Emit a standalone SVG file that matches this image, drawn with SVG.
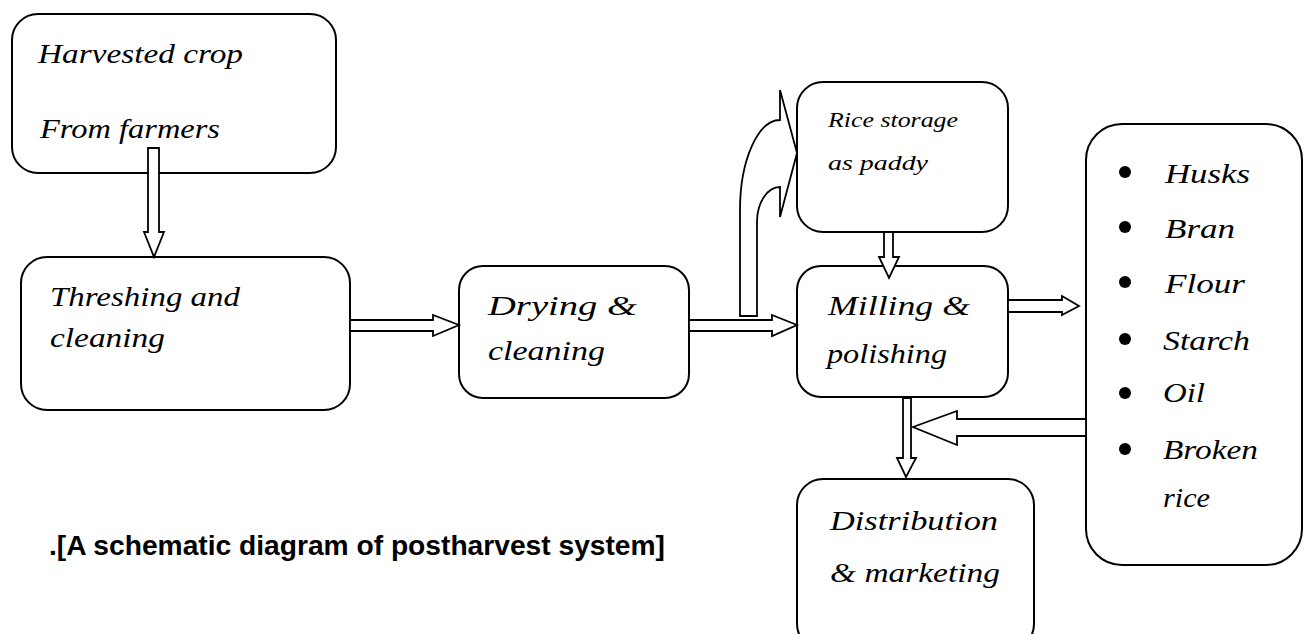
<svg xmlns="http://www.w3.org/2000/svg" width="1309" height="634" viewBox="0 0 1309 634">
<style>
.box{fill:#fff;stroke:#000;stroke-width:2}
.arr{fill:#fff;stroke:#000;stroke-width:1.8;stroke-linejoin:miter}
.t{font-family:"Liberation Serif",serif;font-style:italic;font-size:28px;fill:#000}
.s{font-family:"Liberation Serif",serif;font-style:italic;font-size:21px;fill:#000}
.cap{font-family:"Liberation Sans",sans-serif;font-weight:bold;font-size:27px;fill:#000}
</style>
<rect width="1309" height="634" fill="#fff"/>
<g id="harvested">
<rect class="box" x="12" y="14" width="324" height="159" rx="26"/>
<text class="t" x="38" y="63" textLength="205" lengthAdjust="spacingAndGlyphs">Harvested crop</text>
<text class="t" x="40" y="138" textLength="180" lengthAdjust="spacingAndGlyphs">From farmers</text>
</g>
<g id="threshing">
<rect class="box" x="21" y="257" width="329" height="153" rx="26"/>
<text class="t" x="50" y="306" textLength="190" lengthAdjust="spacingAndGlyphs">Threshing and</text>
<text class="t" x="50" y="347" textLength="115" lengthAdjust="spacingAndGlyphs">cleaning</text>
</g>
<g id="drying">
<rect class="box" x="459" y="266" width="230" height="132" rx="24"/>
<text class="t" x="488" y="315" textLength="149" lengthAdjust="spacingAndGlyphs">Drying  &amp;</text>
<text class="t" x="488" y="360" textLength="117" lengthAdjust="spacingAndGlyphs">cleaning</text>
</g>
<g id="storage">
<rect class="box" x="797" y="82" width="211" height="150" rx="26"/>
<text class="s" x="828" y="127" textLength="130" lengthAdjust="spacingAndGlyphs">Rice storage</text>
<text class="s" x="828" y="170" textLength="100" lengthAdjust="spacingAndGlyphs">as paddy</text>
</g>
<g id="milling">
<rect class="box" x="797" y="266" width="211" height="131" rx="24"/>
<text class="t" x="828" y="315" textLength="142" lengthAdjust="spacingAndGlyphs">Milling &amp;</text>
<text class="t" x="827" y="363" textLength="120" lengthAdjust="spacingAndGlyphs">polishing</text>
</g>
<g id="products">
<rect class="box" x="1086" y="124" width="216" height="441" rx="36"/>
<circle cx="1125" cy="172" r="6"/>
<circle cx="1125" cy="227" r="6"/>
<circle cx="1125" cy="282" r="6"/>
<circle cx="1125" cy="339" r="6"/>
<circle cx="1125" cy="393" r="6"/>
<circle cx="1125" cy="449" r="6"/>
<text class="t" x="1165" y="183" textLength="85" lengthAdjust="spacingAndGlyphs">Husks</text>
<text class="t" x="1165" y="238" textLength="70" lengthAdjust="spacingAndGlyphs">Bran</text>
<text class="t" x="1165" y="293" textLength="80" lengthAdjust="spacingAndGlyphs">Flour</text>
<text class="t" x="1163" y="350" textLength="87" lengthAdjust="spacingAndGlyphs">Starch</text>
<text class="t" x="1163" y="402" textLength="42" lengthAdjust="spacingAndGlyphs">Oil</text>
<text class="t" x="1163" y="459" textLength="95" lengthAdjust="spacingAndGlyphs">Broken</text>
<text class="t" x="1163" y="507" textLength="47" lengthAdjust="spacingAndGlyphs">rice</text>
</g>
<g id="distribution">
<rect class="box" x="797" y="479" width="237" height="171" rx="26"/>
<text class="t" x="830" y="530" textLength="168" lengthAdjust="spacingAndGlyphs">Distribution</text>
<text class="t" x="830" y="582" textLength="170" lengthAdjust="spacingAndGlyphs">&amp; marketing</text>
</g>
<g id="connectors">
<polygon class="arr" points="148,148 159,148 159,232 164,232 154,257 144,232 148,232"/>
<polygon class="arr" points="350,320 433,320 433,315 459,325 433,336 433,331 350,331"/>
<polygon class="arr" points="689,320 772,320 772,315 797,325 772,336 772,331 689,331"/>
<path class="arr" d="M740,316 L740,210 A40,90 0 0 1 780,120 L780,90 L797,153 L780,217 L780,187 A23,35 0 0 0 757,222 L757,316 Z"/>
<polygon class="arr" points="884,232 893,232 893,257 899,257 889,278 879,257 884,257"/>
<polygon class="arr" points="1008,300 1062,300 1062,296 1079,306 1062,315 1062,312 1008,312"/>
<polygon class="arr" points="903,398 911,398 911,458 916,458 906,477 897,458 903,458"/>
<polygon class="arr" points="1086,419 957,419 957,411 913,427 957,445 957,436 1086,436"/>
</g>
<text class="cap" x="49" y="555" textLength="616" lengthAdjust="spacingAndGlyphs">.[A schematic diagram of postharvest system]</text>
</svg>
